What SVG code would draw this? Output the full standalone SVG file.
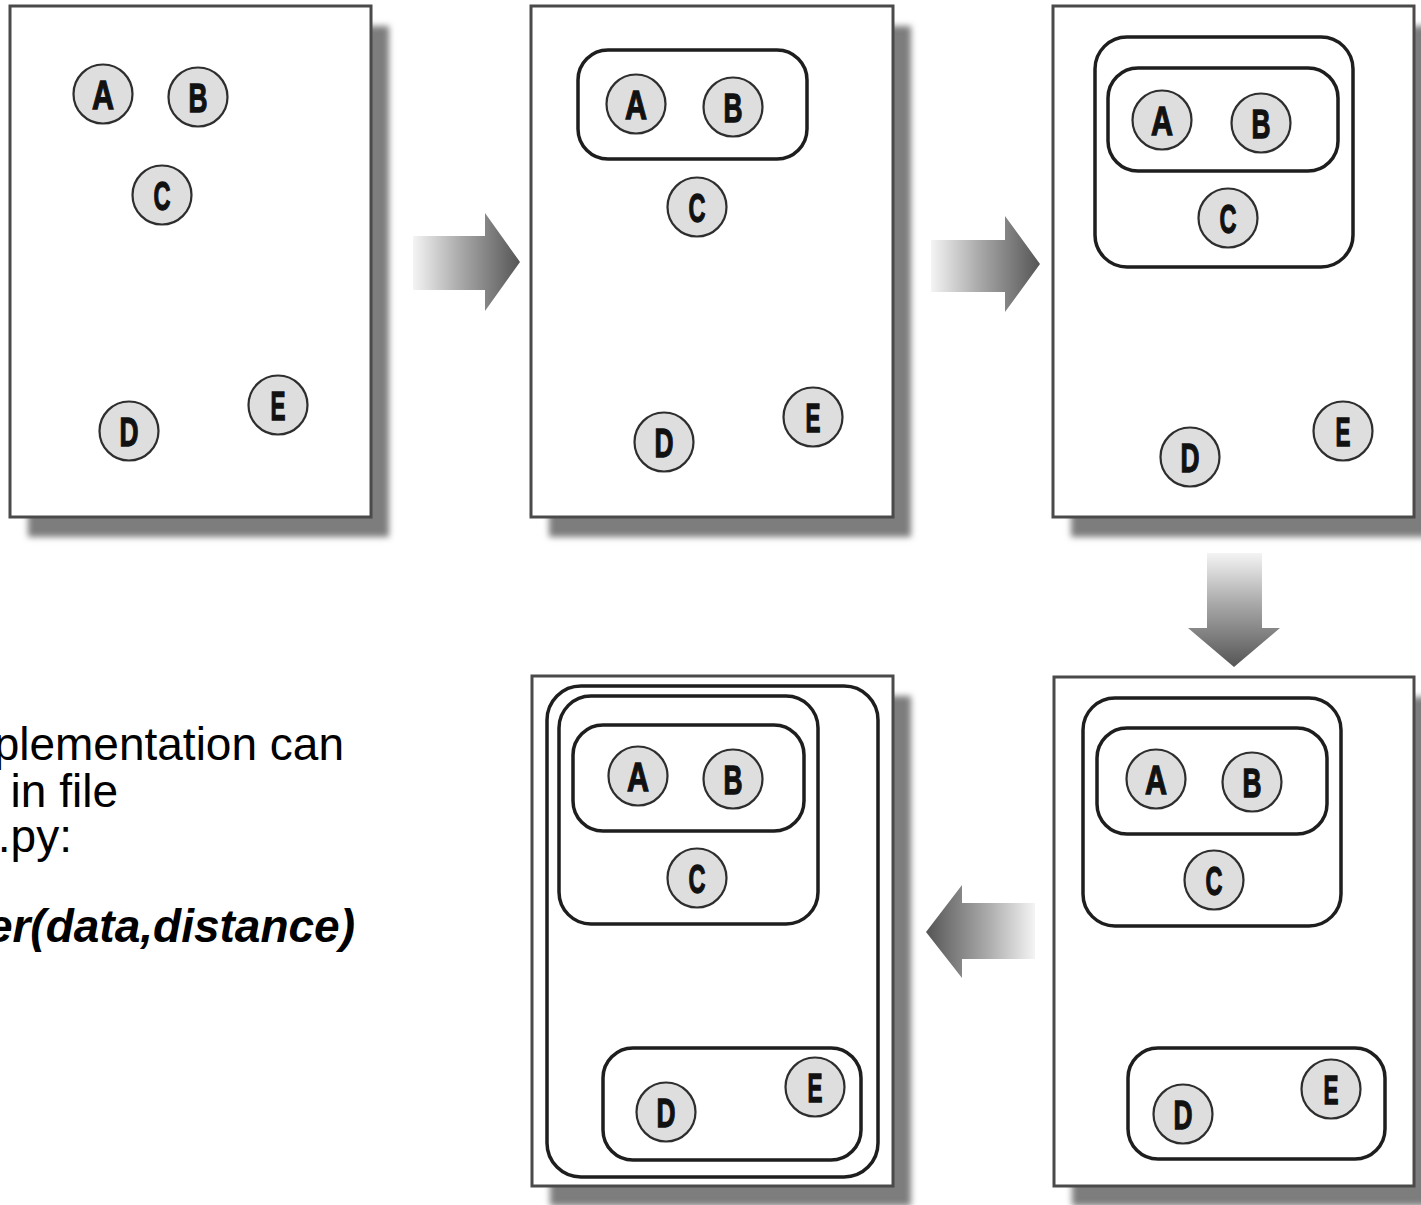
<svg xmlns="http://www.w3.org/2000/svg" width="1421" height="1205" viewBox="0 0 1421 1205">
  <defs>
    <filter id="soft" x="-10%" y="-10%" width="120%" height="120%">
      <feGaussianBlur stdDeviation="3"/>
    </filter>
    <linearGradient id="gRight" x1="0" y1="0" x2="1" y2="0">
      <stop offset="0" stop-color="#f4f4f4"/>
      <stop offset="0.45" stop-color="#a8a8a8"/>
      <stop offset="1" stop-color="#555555"/>
    </linearGradient>
    <linearGradient id="gLeft" x1="1" y1="0" x2="0" y2="0">
      <stop offset="0" stop-color="#f4f4f4"/>
      <stop offset="0.45" stop-color="#a8a8a8"/>
      <stop offset="1" stop-color="#555555"/>
    </linearGradient>
    <linearGradient id="gDown" x1="0" y1="0" x2="0" y2="1">
      <stop offset="0" stop-color="#f4f4f4"/>
      <stop offset="0.45" stop-color="#a8a8a8"/>
      <stop offset="1" stop-color="#555555"/>
    </linearGradient>
  </defs>
  <style>
    .shadow { fill: #7d7d7d; filter: url(#soft); }
    .panel { fill: #ffffff; stroke: #4a4a4a; stroke-width: 3; }
    .group { fill: none; stroke: #1e1e1e; stroke-width: 3.5; }
    .node circle { fill: #dedede; stroke: #2e2e2e; stroke-width: 2.2; }
    .node text { font-family: "Liberation Sans", Arial, sans-serif; font-weight: bold; font-size: 41px; fill: #111; stroke: #111; stroke-width: 1.3; text-anchor: middle; }
    .note { font-family: "Liberation Sans", Arial, sans-serif; font-size: 46px; fill: #000; text-anchor: end; }
    .code { font-weight: bold; font-style: italic; }
  </style>

  <rect width="1421" height="1205" fill="#ffffff"/>

  <!-- drop shadows behind the five panels -->
  <g id="shadows">
    <rect class="shadow" x="28" y="26" width="361" height="511"/>
    <rect class="shadow" x="549" y="26" width="362" height="511"/>
    <rect class="shadow" x="1071" y="26" width="361" height="511"/>
    <rect class="shadow" x="550" y="696" width="361" height="510"/>
    <rect class="shadow" x="1072" y="697" width="360" height="509"/>
  </g>

  <!-- step 1: five loose points -->
  <g id="panel1">
    <rect class="panel" x="10" y="6" width="361" height="511"/>
    <g id="p1-A" class="node"><circle cx="103" cy="94" r="29.5"/><text x="103" y="109" textLength="22" lengthAdjust="spacingAndGlyphs">A</text></g>
    <g id="p1-B" class="node"><circle cx="198" cy="97" r="29.5"/><text x="198" y="112" textLength="19" lengthAdjust="spacingAndGlyphs">B</text></g>
    <g id="p1-C" class="node"><circle cx="162" cy="195" r="29.5"/><text x="162" y="210" textLength="17" lengthAdjust="spacingAndGlyphs">C</text></g>
    <g id="p1-D" class="node"><circle cx="129" cy="431" r="29.5"/><text x="129" y="446" textLength="19" lengthAdjust="spacingAndGlyphs">D</text></g>
    <g id="p1-E" class="node"><circle cx="278" cy="405" r="29.5"/><text x="278" y="420" textLength="15" lengthAdjust="spacingAndGlyphs">E</text></g>
  </g>

  <!-- step 2: A and B merged -->
  <g id="panel2">
    <rect class="panel" x="531" y="6" width="362" height="511"/>
    <rect class="group" x="578" y="50" width="229" height="109" rx="30"/>
    <g id="p2-A" class="node"><circle cx="636" cy="104" r="29.5"/><text x="636" y="119" textLength="22" lengthAdjust="spacingAndGlyphs">A</text></g>
    <g id="p2-B" class="node"><circle cx="733" cy="107" r="29.5"/><text x="733" y="122" textLength="19" lengthAdjust="spacingAndGlyphs">B</text></g>
    <g id="p2-C" class="node"><circle cx="697" cy="207" r="29.5"/><text x="697" y="222" textLength="17" lengthAdjust="spacingAndGlyphs">C</text></g>
    <g id="p2-D" class="node"><circle cx="664" cy="442" r="29.5"/><text x="664" y="457" textLength="19" lengthAdjust="spacingAndGlyphs">D</text></g>
    <g id="p2-E" class="node"><circle cx="813" cy="417" r="29.5"/><text x="813" y="432" textLength="15" lengthAdjust="spacingAndGlyphs">E</text></g>
  </g>

  <!-- step 3: AB merged with C -->
  <g id="panel3">
    <rect class="panel" x="1053" y="6" width="361" height="511"/>
    <rect class="group" x="1095" y="37" width="258" height="230" rx="32"/>
    <rect class="group" x="1108" y="68" width="230" height="103" rx="30"/>
    <g id="p3-A" class="node"><circle cx="1162" cy="120" r="29.5"/><text x="1162" y="135" textLength="22" lengthAdjust="spacingAndGlyphs">A</text></g>
    <g id="p3-B" class="node"><circle cx="1261" cy="123" r="29.5"/><text x="1261" y="138" textLength="19" lengthAdjust="spacingAndGlyphs">B</text></g>
    <g id="p3-C" class="node"><circle cx="1228" cy="218" r="29.5"/><text x="1228" y="233" textLength="17" lengthAdjust="spacingAndGlyphs">C</text></g>
    <g id="p3-D" class="node"><circle cx="1190" cy="457" r="29.5"/><text x="1190" y="472" textLength="19" lengthAdjust="spacingAndGlyphs">D</text></g>
    <g id="p3-E" class="node"><circle cx="1343" cy="431" r="29.5"/><text x="1343" y="446" textLength="15" lengthAdjust="spacingAndGlyphs">E</text></g>
  </g>

  <!-- step 4: D and E merged -->
  <g id="panel4">
    <rect class="panel" x="1054" y="677" width="360" height="509"/>
    <rect class="group" x="1083" y="698" width="258" height="228" rx="32"/>
    <rect class="group" x="1097" y="728" width="230" height="106" rx="30"/>
    <rect class="group" x="1128" y="1048" width="257" height="111" rx="30"/>
    <g id="p4-A" class="node"><circle cx="1156" cy="779" r="29.5"/><text x="1156" y="794" textLength="22" lengthAdjust="spacingAndGlyphs">A</text></g>
    <g id="p4-B" class="node"><circle cx="1252" cy="782" r="29.5"/><text x="1252" y="797" textLength="19" lengthAdjust="spacingAndGlyphs">B</text></g>
    <g id="p4-C" class="node"><circle cx="1214" cy="880" r="29.5"/><text x="1214" y="895" textLength="17" lengthAdjust="spacingAndGlyphs">C</text></g>
    <g id="p4-D" class="node"><circle cx="1183" cy="1114" r="29.5"/><text x="1183" y="1129" textLength="19" lengthAdjust="spacingAndGlyphs">D</text></g>
    <g id="p4-E" class="node"><circle cx="1331" cy="1089" r="29.5"/><text x="1331" y="1104" textLength="15" lengthAdjust="spacingAndGlyphs">E</text></g>
  </g>

  <!-- step 5: everything in one cluster -->
  <g id="panel5">
    <rect class="panel" x="532" y="676" width="361" height="510"/>
    <rect class="group" x="547" y="686" width="331" height="491" rx="34"/>
    <rect class="group" x="559" y="696" width="259" height="228" rx="32"/>
    <rect class="group" x="573" y="725" width="231" height="106" rx="30"/>
    <rect class="group" x="603" y="1048" width="258" height="112" rx="30"/>
    <g id="p5-A" class="node"><circle cx="638" cy="776" r="29.5"/><text x="638" y="791" textLength="22" lengthAdjust="spacingAndGlyphs">A</text></g>
    <g id="p5-B" class="node"><circle cx="733" cy="779" r="29.5"/><text x="733" y="794" textLength="19" lengthAdjust="spacingAndGlyphs">B</text></g>
    <g id="p5-C" class="node"><circle cx="697" cy="878" r="29.5"/><text x="697" y="893" textLength="17" lengthAdjust="spacingAndGlyphs">C</text></g>
    <g id="p5-D" class="node"><circle cx="666" cy="1112" r="29.5"/><text x="666" y="1127" textLength="19" lengthAdjust="spacingAndGlyphs">D</text></g>
    <g id="p5-E" class="node"><circle cx="815" cy="1087" r="29.5"/><text x="815" y="1102" textLength="15" lengthAdjust="spacingAndGlyphs">E</text></g>
  </g>

  <!-- block arrows between the steps -->
  <g id="connectors">
    <path fill="url(#gRight)" d="M413,236 H485 V213 L520,262 L485,311 V290 H413 Z"/>
    <path fill="url(#gRight)" d="M931,240 H1005 V216 L1040,264 L1005,312 V292 H931 Z"/>
    <path fill="url(#gDown)" d="M1207,553 H1262 V628 H1280 L1234,667 L1188,628 H1207 Z"/>
    <path fill="url(#gLeft)" d="M1035,903 H962 V885 L926,932 L962,978 V959 H1035 Z"/>
  </g>

  <!-- note text, cut off at the left edge -->
  <g id="note">
    <text class="note" x="344" y="760">plementation can</text>
    <text class="note" x="118" y="807">in file</text>
    <text class="note" x="72" y="852">.py:</text>
    <text class="note code" x="355" y="942">er(data,distance)</text>
  </g>
</svg>
